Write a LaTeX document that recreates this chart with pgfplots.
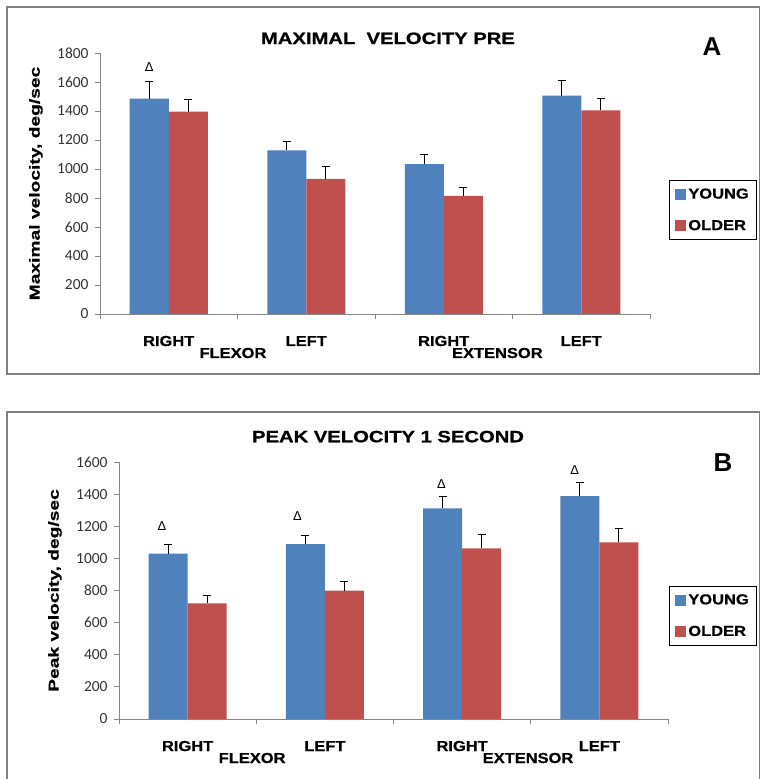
\documentclass[border=0pt]{standalone}
\usepackage{fontspec}
\setmainfont{Liberation Sans}
\newfontfamily\calib{Carlito}
\newfontfamily\wideb[FakeStretch=1.14,FakeBold=0.6]{Liberation Sans Bold}
\newfontfamily\widet[FakeStretch=1.23,FakeBold=0.8]{Liberation Sans Bold}
\newfontfamily\widey[FakeStretch=1.33,FakeBold=0.6]{Liberation Sans Bold}
\usepackage{pgfplots}
\usepackage{pgfplotstable}
\pgfplotsset{compat=1.18}
\definecolor{cyoung}{RGB}{79,129,189}
\definecolor{colder}{RGB}{192,80,77}
\definecolor{axgray}{RGB}{134,134,134}
\definecolor{frgray}{RGB}{128,128,128}

\pgfplotstableread{
x  y    ye   o    oe
0  1485 122  1395 88
1  1129 59   931  87
2  1034 65   814  57
3  1506 108  1405 85
}\dataA
\pgfplotstableread{
x  y    ye   o    oe
0  1029 56   720  48
1  1088 53   799  56
2  1312 72   1063 85
3  1387 84   1100 87
}\dataB

\pgfplotsset{
  panel/.style={
    scale only axis,
    xmin=-0.5, xmax=3.5, ymin=0,
    axis x line*=bottom, axis y line*=left,
    axis line style={axgray, line width=0.8bp},
    xtick={0,1,2,3},
    xticklabels={RIGHT,LEFT,RIGHT,LEFT},
    major x tick style={draw=none},
    minor xtick={-0.5,0.5,1.5,2.5,3.5},
    minor x tick style={axgray, line width=0.8bp},
    minor tick length=5bp,
    xticklabel style={font=\wideb\fontsize{14.5}{16}\selectfont, anchor=base, yshift=-27bp},
    yticklabel style={font=\calib\fontsize{15.5}{17}\selectfont, text=black!80, xshift=-3bp},
    /pgf/number format/assume math mode=true,
    /pgf/number format/1000 sep={},
    ytick style={axgray, line width=0.8bp},
    major tick length=5bp,
    tick align=outside,
    ylabel style={font=\widey\fontsize{14.5}{16}\selectfont, anchor=center},
    clip=false,
    ybar, bar width=39bp,
    legend style={draw=black, line width=0.8bp, font=\wideb\fontsize{14.5}{16}\selectfont,
      anchor=north west, inner xsep=6bp, inner ysep=6bp,
      row sep=16bp, legend cell align=left},
    legend image code/.code={\fill[##1] (0bp,-5.5bp) rectangle (11bp,5.5bp);},
    error bars/y dir=plus, error bars/y explicit,
    error bars/error bar style={draw=black, line width=0.8bp},
    error bars/error mark options={rotate=90, draw=black, mark size=4bp, line width=0.8bp},
  },
}

\begin{document}
\begin{tikzpicture}[x=1bp,y=1bp]
\useasboundingbox (0,0) rectangle (760bp,779bp);
\fill[white] (0,0) rectangle (760bp,779bp);
% frames
\draw[frgray, line width=1.2bp] (759.5bp,772bp) -- (7bp,772bp) -- (7bp,405bp) -- (759.5bp,405bp) -- (759.5bp,772bp);
\draw[frgray, line width=1.2bp] (7bp,0bp) -- (7bp,367bp) -- (759.5bp,367bp) -- (759.5bp,0bp);

% Panel A
\begin{axis}[panel, at={(100bp,465bp)}, anchor=south west,
  width=550bp, height=261bp, ymax=1800, ytick={0,200,...,1800},
  ylabel={Maximal velocity, deg/sec},
  ylabel style={at={(axis description cs:-0.1164,0.5)}},
  legend style={at={(axis description cs:1.0345,0.513)}},
]
\addplot[fill=cyoung, draw=none, bar shift=-19.5bp] table[x=x, y=y, y error=ye] {\dataA};
\addplot[fill=colder, draw=none, bar shift=19.5bp] table[x=x, y=o, y error=oe] {\dataA};
\legend{YOUNG,OLDER}
\node[font=\widet\fontsize{16.5}{18}\selectfont] at (axis cs:1.594,1901) {MAXIMAL\ \ VELOCITY PRE};
\node[font=\fontsize{26}{28}\selectfont\bfseries] at (axis cs:3.95,1845) {A};
\node[font=\fontsize{13}{15}\selectfont] at (axis cs:-0.142,1703) {Δ};
\node[font=\wideb\fontsize{14.5}{16}\selectfont, anchor=base, yshift=-44bp] at (axis cs:0.467,0) {FLEXOR};
\node[font=\wideb\fontsize{14.5}{16}\selectfont, anchor=base, yshift=-44bp] at (axis cs:2.39,0) {EXTENSOR};
\end{axis}

% Panel B
\begin{axis}[panel, at={(119bp,60bp)}, anchor=south west,
  width=549bp, height=257bp, ymax=1600, ytick={0,200,...,1600},
  ylabel={Peak velocity, deg/sec},
  ylabel style={at={(axis description cs:-0.1166,0.5)}},
  legend style={at={(axis description cs:1.0018,0.518)}},
]
\addplot[fill=cyoung, draw=none, bar shift=-19.5bp] table[x=x, y=y, y error=ye] {\dataB};
\addplot[fill=colder, draw=none, bar shift=19.5bp] table[x=x, y=o, y error=oe] {\dataB};
\legend{YOUNG,OLDER}
\node[font=\widet\fontsize{16.5}{18}\selectfont] at (axis cs:1.46,1758) {PEAK VELOCITY 1 SECOND};
\node[font=\fontsize{26}{28}\selectfont\bfseries] at (axis cs:3.9,1594) {B};
\node[font=\fontsize{13}{15}\selectfont] at (axis cs:-0.187,1202) {Δ};
\node[font=\fontsize{13}{15}\selectfont] at (axis cs:0.80,1264) {Δ};
\node[font=\fontsize{13}{15}\selectfont] at (axis cs:1.85,1463) {Δ};
\node[font=\fontsize{13}{15}\selectfont] at (axis cs:2.82,1550) {Δ};
\node[font=\wideb\fontsize{14.5}{16}\selectfont, anchor=base, yshift=-44bp] at (axis cs:0.47,0) {FLEXOR};
\node[font=\wideb\fontsize{14.5}{16}\selectfont, anchor=base, yshift=-44bp] at (axis cs:2.48,0) {EXTENSOR};
\end{axis}
\end{tikzpicture}
\end{document}
